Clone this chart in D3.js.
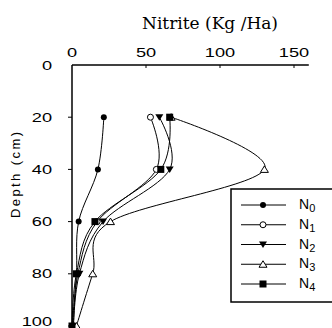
<!DOCTYPE html>
<html>
<head>
<meta charset="utf-8">
<script src="https://cdn.jsdelivr.net/npm/d3@7"></script>
<style>
  html, body { margin: 0; padding: 0; background: #fff; }
  svg { display: block; }
</style>
</head>
<body>
<div id="chart"></div>
<script>
// Nitrite profile by depth - one line per N treatment
const depths = [20, 40, 60, 80, 100];
const xTicks = [0, 50, 100, 150];
const yTicks = [0, 20, 40, 60, 80, 100];
const seriesNames = ["N0", "N1", "N2", "N3", "N4"];
const n0 = [21.5, 17.5, 4.5, 3, 0];
const n1 = [53, 57, 17, 4, 1];
const n2 = [59, 66, 21, 5, 1];
const n3 = [67, 130, 26, 14, 3];
const n4 = [66, 60, 15.5, 3, 0];

const W = 332, H = 328;
const svg = d3.select('#chart').append('svg')
    .attr('width', W).attr('height', H);

const x = d3.scaleLinear().domain([0, 160]).range([72, 308.8]);
const y = d3.scaleLinear().domain([0, 100]).range([65, 326]);

// title (serif, like the original)
svg.append('text')
    .attr('x', 210).attr('y', 29)
    .attr('text-anchor', 'middle')
    .attr('font-family', 'DejaVu Serif, serif')
    .attr('font-size', 16)
    .attr('textLength', 136)
    .attr('lengthAdjust', 'spacingAndGlyphs')
    .text('Nitrite (Kg /Ha)');

// top axis
const gx = svg.append('g');
gx.append('line')
    .attr('x1', x(0)).attr('x2', x(160))
    .attr('y1', y(0)).attr('y2', y(0))
    .attr('stroke', '#000').attr('stroke-width', 1.5);
gx.selectAll('.xt').data(xTicks.slice(1)).enter().append('line')
    .attr('x1', d => x(d)).attr('x2', d => x(d))
    .attr('y1', y(0)).attr('y2', y(0) + 3)
    .attr('stroke', '#000');
gx.selectAll('.xl').data(xTicks).enter().append('text')
    .attr('transform', d => `translate(${x(d)},57) scale(1.4,1)`)
    .attr('text-anchor', 'middle')
    .style('font-family', '"Liberation Sans", Arial, sans-serif')
    .style('font-size', '13px')
    .text(d => d);

// left axis
const gy = svg.append('g');
gy.append('line')
    .attr('x1', x(0)).attr('x2', x(0))
    .attr('y1', y(0)).attr('y2', H)
    .attr('stroke', '#000').attr('stroke-width', 1.5);
gy.selectAll('.yt').data(yTicks.slice(1)).enter().append('line')
    .attr('x1', x(0) - 4).attr('x2', x(0))
    .attr('y1', d => y(d)).attr('y2', d => y(d))
    .attr('stroke', '#000');
// last label sits at the bottom edge, as in the original
gy.selectAll('.yl').data(yTicks).enter().append('text')
    .attr('transform', d => `translate(52,${Math.min(y(d) + 4.5, H - 2)}) scale(1.4,1)`)
    .attr('text-anchor', 'end')
    .style('font-family', '"Liberation Sans", Arial, sans-serif')
    .style('font-size', '13px')
    .text(d => d);

svg.append('text')
    .attr('transform', 'translate(20,175) rotate(-90)')
    .attr('text-anchor', 'middle')
    .style('font-family', '"Liberation Sans", Arial, sans-serif')
    .style('font-size', '13px')
    .attr('textLength', 86)
    .text('Depth (cm)');

// series
const allSeries = [n0, n1, n2, n3, n4].map((vals, i) => ({
    name: seriesNames[i],
    points: vals.map((v, j) => ({ v: v, d: depths[j] }))
}));

const line = d3.line()
    .x(p => x(p.v))
    .y(p => y(p.d))
    .curve(d3.curveCatmullRom.alpha(0));

svg.append('g').selectAll('path').data(allSeries).enter().append('path')
    .attr('d', s => line(s.points))
    .attr('fill', 'none')
    .attr('stroke', '#000')
    .attr('stroke-width', 1);

// marker drawer by series index
function drawMarker(g, i, cx, cy) {
    if (i === 0) {
        g.append('circle').attr('cx', cx).attr('cy', cy).attr('r', 3)
            .attr('fill', '#000');
    } else if (i === 1) {
        g.append('circle').attr('cx', cx).attr('cy', cy).attr('r', 3)
            .attr('fill', '#fff').attr('stroke', '#000');
    } else if (i === 2) {
        g.append('path')
            .attr('d', `M${cx - 4},${cy - 3}L${cx + 4},${cy - 3}L${cx},${cy + 3.5}Z`)
            .attr('fill', '#000');
    } else if (i === 3) {
        g.append('path')
            .attr('d', `M${cx - 4},${cy + 3}L${cx + 4},${cy + 3}L${cx},${cy - 3.5}Z`)
            .attr('fill', '#fff').attr('stroke', '#000');
    } else {
        g.append('rect').attr('x', cx - 3.5).attr('y', cy - 3.5)
            .attr('width', 7).attr('height', 7).attr('fill', '#000');
    }
}

const gm = svg.append('g');
allSeries.forEach((s, i) => {
    s.points.forEach(p => drawMarker(gm, i, x(p.v), y(p.d)));
});

// legend
const lg = svg.append('g');
lg.append('rect')
    .attr('x', 231).attr('y', 189)
    .attr('width', 110).attr('height', 113)
    .attr('fill', '#fff')
    .attr('stroke', '#000').attr('stroke-width', 1.5);

const rowY = d3.scalePoint().domain(seriesNames).range([205, 284]);
seriesNames.forEach((name, i) => {
    const ry = rowY(name);
    lg.append('line')
        .attr('x1', 241).attr('x2', 286)
        .attr('y1', ry).attr('y2', ry)
        .attr('stroke', '#000');
    drawMarker(lg, i, 263, ry);
    const t = lg.append('text')
        .attr('x', 299).attr('y', ry + 4)
        .style('font-family', '"Liberation Sans", Arial, sans-serif')
        .style('font-size', '14px');
    t.append('tspan').text(name[0]);
    t.append('tspan').attr('dy', 3).style('font-size', '11px').text(name.slice(1));
});
</script>
</body>
</html>
